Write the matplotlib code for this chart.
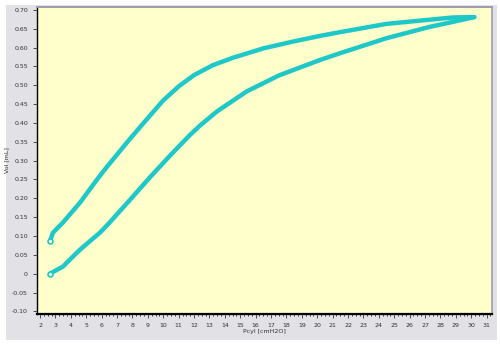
import numpy as np
import matplotlib.pyplot as plt
import matplotlib.patches as patches
from matplotlib.ticker import MultipleLocator, FuncFormatter

# Inflation branch (lower)
p_insp = [2.65, 3.0, 3.49, 4.0, 4.6, 5.37, 5.89, 6.5, 7.84, 9.14, 10.5, 11.73,
          12.38, 13.5, 15.43, 17.5, 20.17, 21.47, 24.5, 27.3, 29.0, 30.2]
v_insp = [0.0, 0.008, 0.019, 0.040, 0.064, 0.091, 0.109, 0.135, 0.196, 0.256, 0.316, 0.368,
          0.393, 0.431, 0.484, 0.526, 0.567, 0.585, 0.625, 0.655, 0.670, 0.681]

# Deflation branch (upper)
p_exp = [30.2, 28.8, 24.5, 21.47, 20.17, 18.42, 16.5, 14.52, 13.2, 12.0, 11.0, 10.0,
         9.0, 7.84, 6.35, 5.7, 4.6, 3.49, 2.84, 2.65]
v_exp = [0.681, 0.680, 0.663, 0.641, 0.631, 0.616, 0.598, 0.573, 0.553, 0.527, 0.497, 0.460,
         0.413, 0.358, 0.284, 0.250, 0.189, 0.136, 0.109, 0.088]

teal = '#1ec8c8'

fig = plt.figure(figsize=(5.0, 3.46), dpi=100, facecolor='white')
panel = patches.Rectangle((0.012, 0.017), 0.982, 0.968, transform=fig.transFigure,
                          facecolor='#e1e1e6', edgecolor='none', zorder=-10)
fig.patches.append(panel)

ax = fig.add_axes([0.074, 0.0925, 0.910, 0.8875])
ax.set_facecolor('#ffffcc')

ax.plot(p_insp, v_insp, color=teal, lw=3.2, solid_capstyle='round', solid_joinstyle='round')
ax.plot(p_exp, v_exp, color=teal, lw=3.2, solid_capstyle='round', solid_joinstyle='round')
ax.plot([p_insp[0], p_exp[-1]], [v_insp[0], v_exp[-1]], 'o', ms=3.5,
        mfc='#ffffcc', mec=teal, mew=1.2)

ax.set_xlim(1.8, 31.35)
ax.set_ylim(-0.107, 0.708)
ax.xaxis.set_major_locator(MultipleLocator(1))
ax.xaxis.set_minor_locator(MultipleLocator(0.25))
ax.yaxis.set_major_locator(MultipleLocator(0.05))


def yfmt(v, pos):
    if abs(v) < 1e-9:
        return '0'
    return f'{v:.2f}'


ax.yaxis.set_major_formatter(FuncFormatter(yfmt))
ax.tick_params(axis='both', labelsize=4.5, colors='#333333', length=3, width=0.6)
ax.tick_params(axis='x', which='minor', length=1.5, width=0.5)

for side in ['left', 'bottom']:
    ax.spines[side].set_color('black')
ax.spines['bottom'].set_linewidth(1.6)
ax.spines['left'].set_linewidth(1.0)
ax.spines['top'].set_color('#9c9cb0')
ax.spines['top'].set_linewidth(1.4)
ax.spines['right'].set_color('#9c9cb0')
ax.spines['right'].set_linewidth(1.2)

ax.set_xlabel('Pcyl [cmH2O]', fontsize=4.5, labelpad=1, color='#333333')
ax.set_ylabel('Vol [mL]', fontsize=4.5, labelpad=2, color='#333333')

fig.savefig('out.png', dpi=100, facecolor=fig.get_facecolor())
